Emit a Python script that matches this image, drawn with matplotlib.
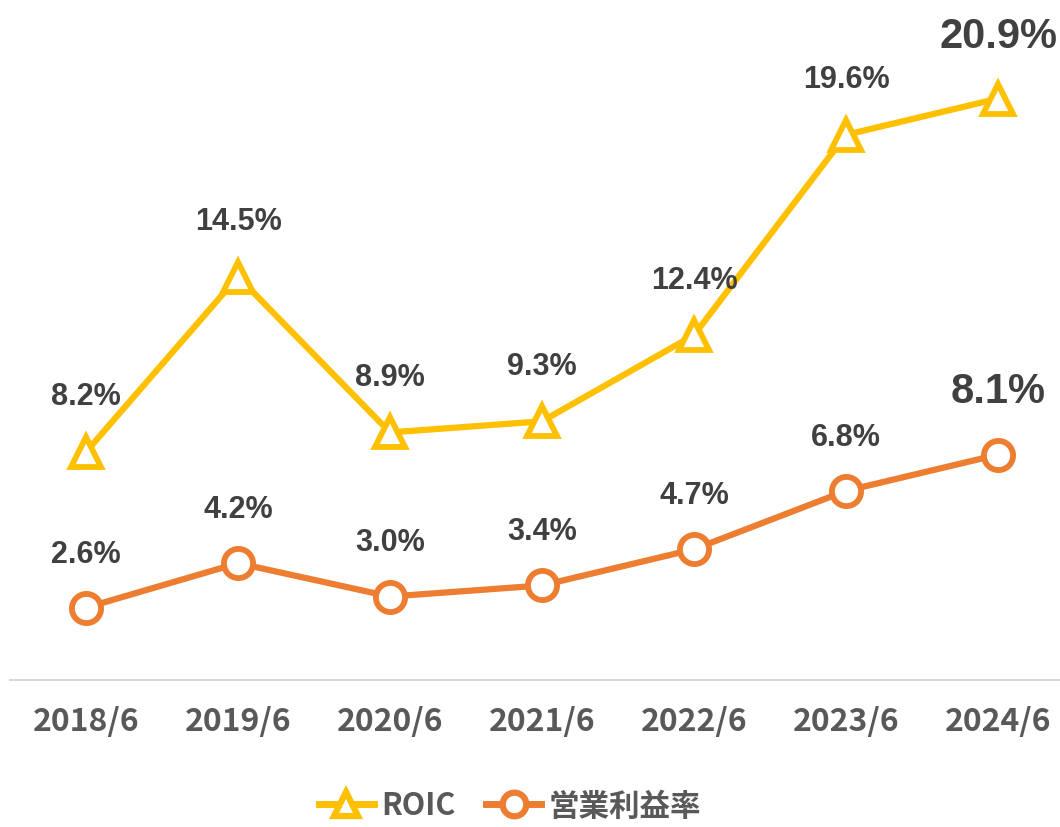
import numpy as np
import matplotlib.pyplot as plt
from matplotlib.lines import Line2D

plt.rcParams['font.family'] = ['Noto Sans CJK JP', 'DejaVu Sans']

years = ['2018/6', '2019/6', '2020/6', '2021/6', '2022/6', '2023/6', '2024/6']
roic = [8.2, 14.5, 8.9, 9.3, 12.4, 19.6, 20.9]
margin = [2.6, 4.2, 3.0, 3.4, 4.7, 6.8, 8.1]

yellow = '#FFC000'
orange = '#ED7D31'
label_col = '#404040'
tick_col = '#595959'

fig = plt.figure(figsize=(10.6, 8.28), dpi=100)
ax = fig.add_axes([10 / 1060, 147 / 828, 1064 / 1060, 669 / 828])
x = np.arange(len(years))

ax.plot(x, roic, color=yellow, lw=4.5, marker='^', ms=22, mew=4.2,
        mfc='white', mec=yellow, solid_joinstyle='round', zorder=3)
ax.plot(x, margin, color=orange, lw=4.5, marker='o', ms=21, mew=4.2,
        mfc='white', mec=orange, zorder=3)

ax.set_xlim(-0.5, 6.5)
ax.set_ylim(0, 24.05)

# data labels
for i, v in enumerate(roic):
    last = i == len(roic) - 1
    ax.annotate(f'{v:.1f}%', (i, v), xytext=(0, 45 if last else 40),
                textcoords='offset points', ha='center', va='center',
                fontsize=30 if last else 22, fontweight='bold',
                family=['Liberation Sans'], color=label_col)
for i, v in enumerate(margin):
    last = i == len(margin) - 1
    ax.annotate(f'{v:.1f}%', (i, v), xytext=(0, 46 if last else 39),
                textcoords='offset points', ha='center', va='center',
                fontsize=30 if last else 22, fontweight='bold',
                family=['Liberation Sans'], color=label_col)

for s in ['top', 'right', 'left']:
    ax.spines[s].set_visible(False)
ax.spines['bottom'].set_color('#D9D9D9')
ax.spines['bottom'].set_linewidth(1.5)
ax.set_yticks([])
ax.set_xticks(x)
ax.set_xticklabels(years, fontsize=23, fontweight='bold', color=tick_col)
ax.tick_params(axis='x', length=0, pad=18)

handles = [
    Line2D([], [], color=yellow, lw=5, marker='^', ms=17, mew=4.5,
           mfc='white', mec=yellow),
    Line2D([], [], color=orange, lw=5, marker='o', ms=17, mew=4.5,
           mfc='white', mec=orange),
]
leg = fig.legend(handles, ['ROIC', '営業利益率'], loc='center',
                 bbox_to_anchor=(0.481, 0.026), ncol=2, frameon=False,
                 fontsize=22, handlelength=1.8, columnspacing=1.0,
                 handletextpad=0.25)
for t in leg.get_texts():
    t.set_color(tick_col)
    t.set_fontweight('bold')

fig.savefig('out.png', dpi=100)
